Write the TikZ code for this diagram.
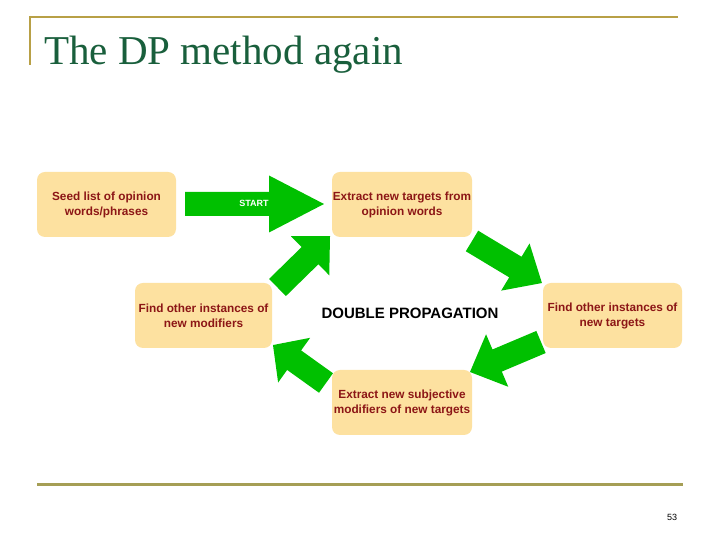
\documentclass[tikz,border=0pt]{standalone}
\usepackage{fontspec}
\setmainfont{Liberation Serif}
\setsansfont{Liberation Sans}
\definecolor{arrowgreen}{RGB}{0,192,0}
\definecolor{boxfill}{RGB}{253,225,160}
\definecolor{boxtext}{RGB}{140,22,22}
\definecolor{titlegreen}{RGB}{25,95,60}
\definecolor{goldline}{RGB}{184,160,70}
\definecolor{oliveline}{RGB}{165,158,85}
\tikzset{
  stepbox/.style={fill=boxfill, rounded corners=8pt, minimum width=139pt, minimum height=65pt,
    align=center, text=boxtext, font=\sffamily\bfseries\fontsize{11.8}{15}\selectfont, inner sep=0pt},
  blockfill/.style={fill=arrowgreen},
}
\newcommand\blockarrow[7]{%
  \begin{scope}[shift={(#1,#2)},rotate=#3]
    \fill[blockfill] (0,{-#5/2}) -- ({#4-#7},{-#5/2}) -- ({#4-#7},{-#6/2}) -- (#4,0)
      -- ({#4-#7},{#6/2}) -- ({#4-#7},{#5/2}) -- (0,{#5/2}) -- cycle;
  \end{scope}}
\begin{document}
\begin{tikzpicture}[x=1pt,y=1pt]
\useasboundingbox[fill=white] (0,0) rectangle (720,540);
% frame lines
\draw[goldline, line width=2pt] (30,523) -- (678,523);
\draw[goldline, line width=2pt] (30,524) -- (30,475);
\draw[oliveline, line width=3pt] (37,55) -- (683,55);
\node[anchor=base west, text=titlegreen, font=\fontsize{41}{44}\selectfont, inner sep=0pt] (title) at (44,475) {The DP method again};
\node[font=\sffamily\fontsize{9}{10}\selectfont, inner sep=0pt] (page) at (672,23) {53};
% block arrows
\blockarrow{185}{336}{0}{139}{24}{57}{55}
\node[text=white, font=\sffamily\bfseries\fontsize{9}{10}\selectfont, inner sep=0pt] (start) at (254,337) {START};
\blockarrow{277.5}{252.5}{44.4}{73.5}{24}{55}{28}
\blockarrow{472}{299}{-31}{81.6}{24}{55}{31}
\blockarrow{541}{198}{202.9}{77.1}{24}{57}{29.5}
\blockarrow{326}{157}{144.4}{65.2}{24}{55}{26}
% boxes
\node[stepbox] (seed) at (106.5,335.5) {Seed list of opinion\\words/phrases};
\node[stepbox, minimum width=140pt] (extT) at (402,335.5) {Extract new targets from\\opinion words};
\node[stepbox, minimum width=137pt] (findM) at (203.5,224.5) {Find other instances of\\new modifiers};
\node[stepbox] (findT) at (612.5,224.5) {Find other instances of\\new targets};
\node[stepbox, minimum width=140pt] (extM) at (402,137.5) {Extract new subjective\\modifiers of new targets};
\node[font=\sffamily\bfseries\fontsize{15}{17}\selectfont, inner sep=0pt] (dp) at (410,227) {DOUBLE PROPAGATION};
\end{tikzpicture}
\end{document}
